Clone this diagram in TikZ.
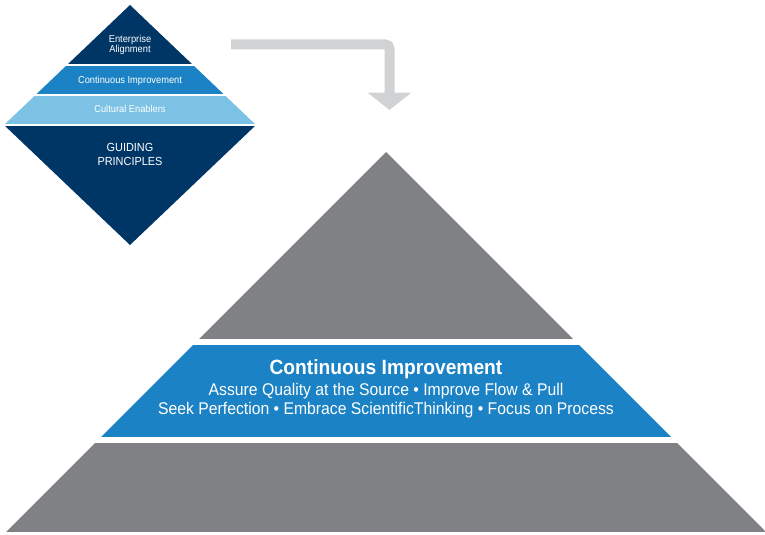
\documentclass[tikz,border=0pt]{standalone}
\usepackage{fontspec}
\setmainfont[FakeStretch=0.93]{Liberation Sans}
\usetikzlibrary{arrows.meta}
\definecolor{navy}{RGB}{0,54,102}
\definecolor{midblue}{RGB}{27,130,197}
\definecolor{lightblue}{RGB}{124,194,228}
\definecolor{pyrgray}{RGB}{128,129,132}
\definecolor{arrowgray}{RGB}{209,210,212}
\tikzset{
  bandtext/.style={text=white,inner sep=0pt,anchor=base},
  smalltext/.style={bandtext,font=\fontsize{7.5}{7.5}\selectfont,align=center},
  pyrtext/.style={bandtext,font=\fontsize{12.7}{14}\selectfont},
}
% one horizontal band of a clipped shape: top y, bottom y, colour
\newcommand\DrawBand[3]{
  \fill[#3] (0,#1) rectangle (765,#2);
}

\begin{document}
\begin{tikzpicture}[x=0.75pt,y=-0.75pt]
\useasboundingbox (0,0) rectangle (765,535);
% small diamond
\begin{scope}
  \clip (130,5) -- (256,125) -- (130,245) -- (4,125) -- cycle;
  \DrawBand{0}{64}{navy}
  \DrawBand{66}{94}{midblue}
  \DrawBand{96}{124}{lightblue}
  \DrawBand{126}{250}{navy}
\end{scope}
\node[smalltext] (align) at (130,52.5) {Enterprise\\Alignment};
\node[smalltext] (ci) at (130,83.5) {Continuous Improvement};
\node[smalltext] (ce) at (130,113) {Cultural Enablers};
\node[bandtext,align=center,font=\fontsize{8.8}{10.5}\selectfont] (gp) at (130,166) {GUIDING\\PRINCIPLES};
% arrow
\coordinate (arrstart) at (231,44.5);
\coordinate (arrend) at (389.5,110);
\draw[arrowgray,line width=7.5pt,rounded corners=3pt,
  -{Triangle[width=32pt,length=13pt]}]
  (arrstart) -- (arrstart -| arrend) -- (arrend);
% pyramid
\begin{scope}
  \clip (386,152) -- (766,532) -- (6,532) -- cycle;
  \DrawBand{150}{339}{pyrgray}
  \DrawBand{345}{437}{midblue}
  \DrawBand{443}{532}{pyrgray}
\end{scope}
\node[bandtext,font=\bfseries\fontsize{15.5}{16}\selectfont] (title) at (386,374) {Continuous Improvement};
\node[pyrtext] (lineone) at (386,395) {Assure Quality at the Source \textbullet\ Improve Flow \& Pull};
\node[pyrtext] (linetwo) at (386,414) {Seek Perfection \textbullet\ Embrace ScientificThinking \textbullet\ Focus on Process};
\end{tikzpicture}
\end{document}
